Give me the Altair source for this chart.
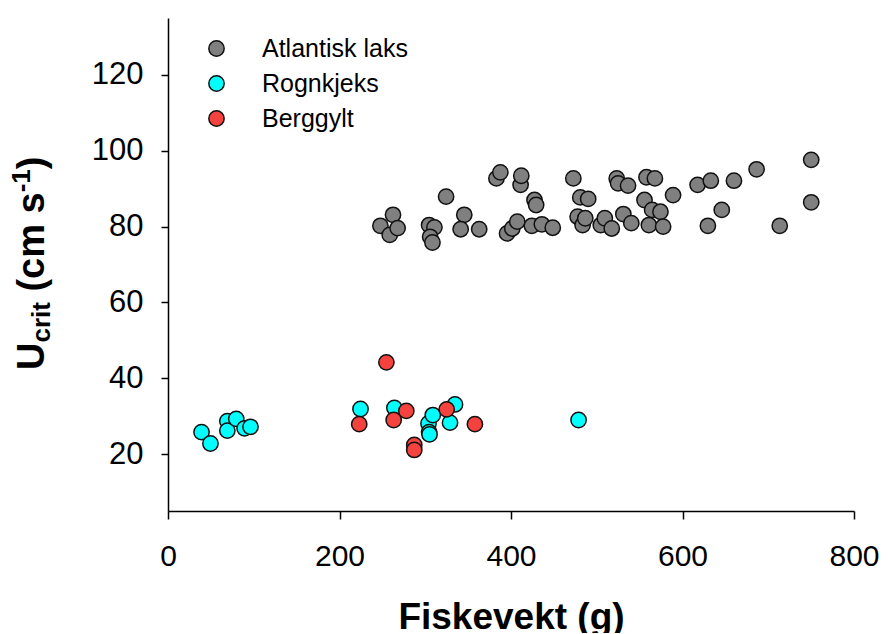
import altair as alt
import pandas as pd

species = ["Atlantisk laks", "Rognkjeks", "Berggylt"]
colors = ["#808080", "#00FFFF", "#F4433E"]

salmon_w = [247.7, 262.4, 258.6, 267.8, 324.3, 304.5, 310.7, 305.7, 308.4, 345.5,
            341.3, 362.9, 383.0, 387.6, 411.2, 412.0, 427.4, 429.3, 395.4, 401.5,
            407.3, 424.3, 436.0, 448.7, 472.7, 480.8, 490.0, 477.7, 483.5, 486.6,
            504.7, 509.4, 517.5, 523.3, 524.9, 536.5, 531.0, 540.3, 555.7, 558.0,
            567.8, 564.6, 574.3, 560.8, 577.4, 589.0, 617.6, 633.0, 645.8, 629.6,
            660.0, 686.4, 713.4, 750.1, 750.1]
salmon_u = [80.2, 83.1, 77.8, 79.6, 87.9, 80.4, 79.8, 77.3, 75.8, 83.1,
            79.3, 79.3, 92.7, 94.3, 91.0, 93.4, 87.0, 85.7, 78.2, 79.5,
            81.3, 80.2, 80.6, 79.7, 92.7, 87.7, 87.3, 82.6, 80.4, 82.2,
            80.4, 82.2, 79.5, 92.7, 91.4, 90.8, 83.3, 80.9, 87.0, 93.0,
            92.7, 84.4, 83.9, 80.4, 80.0, 88.3, 91.0, 92.1, 84.4, 80.2,
            92.1, 95.1, 80.2, 97.6, 86.4]

lump_w = [39.1, 49.5, 69.2, 69.2, 79.6, 89.3, 96.2, 224.5, 264.0, 303.8,
          304.5, 305.0, 308.8, 334.7, 328.9, 478.8]
lump_u = [25.8, 22.8, 28.7, 26.2, 29.3, 26.8, 27.2, 31.9, 32.2, 28.1,
          25.8, 25.2, 30.3, 33.1, 28.3, 29.0]

wrasse_w = [254.7, 223.0, 263.2, 277.9, 287.2, 287.2, 325.0, 357.9]
wrasse_u = [44.2, 27.9, 29.0, 31.4, 22.4, 21.1, 31.8, 27.9]

x_ticks = [0, 200, 400, 600, 800]
y_ticks = [20, 40, 60, 80, 100, 120]

rows = []
for name, ws, us in zip(species, [salmon_w, lump_w, wrasse_w], [salmon_u, lump_u, wrasse_u]):
    for w, u in zip(ws, us):
        rows.append({"species": name, "w": w, "u": u})
df = pd.DataFrame(rows)
df["idx"] = range(len(df))

W, H = 686, 493
FONT = "Liberation Sans"
PT = 235

points = alt.Chart(df).mark_circle(
    size=PT, opacity=1, stroke="#111111", strokeWidth=1.5
).encode(
    x=alt.X("w:Q", scale=alt.Scale(domain=[0, 800], nice=False),
            axis=alt.Axis(values=x_ticks, title="Fiskevekt (g)", tickSize=8,
                          labelPadding=22, labelFlush=False, labelFontSize=30,
                          titleFontSize=37, titleFontWeight="bold", titleFont=FONT,
                          titleBaseline="alphabetic", titleY=117)),
    y=alt.Y("u:Q", scale=alt.Scale(domain=[5, 135], nice=False, zero=False),
            axis=alt.Axis(values=y_ticks, title=None, tickSize=7, labelPadding=18,
                          labelFlush=False)),
    color=alt.Color("species:N", scale=alt.Scale(domain=species, range=colors),
                    legend=alt.Legend(title=None, orient="none", legendX=36, legendY=18,
                                      symbolType="circle", symbolSize=PT,
                                      symbolStrokeColor="#111111", symbolStrokeWidth=1.5,
                                      symbolOpacity=1, labelFont=FONT, labelFontSize=25,
                                      labelColor="black", labelOffset=33, rowPadding=9,
                                      labelLimit=400)),
    order=alt.Order("idx:Q"),
)

one = pd.DataFrame({"k": [0]})
main_size = 38
sub_size = 26
base_x = -124
start_y = 352

def tx(text, x, y, size):
    return alt.Chart(one).mark_text(
        text=text, angle=270, align="left", baseline="alphabetic",
        font=FONT, fontWeight="bold", fontSize=size, color="black"
    ).encode(x=alt.value(x), y=alt.value(y))

y_u = start_y
y_crit = y_u - 0.722 * main_size
y_paren = y_crit - 1.556 * sub_size - 0.278 * main_size
y_sup = y_paren - 2.612 * main_size
y_close = y_sup - 0.889 * sub_size

title_layers = [
    tx("U", base_x, y_u, main_size),
    tx("crit", base_x + 6, y_crit, sub_size),
    tx("(cm s", base_x, y_paren, main_size),
    tx("-1", base_x - 14, y_sup, sub_size),
    tx(")", base_x, y_close, main_size),
]

chart = alt.layer(points, *title_layers).properties(
    width=W, height=H,
    autosize=alt.AutoSizeParams(type="none"),
    padding={"left": 160, "top": 10, "right": 26, "bottom": 122},
).configure_view(stroke=None).configure_axis(
    grid=False, domainColor="black", domainWidth=1.5, tickColor="black",
    tickWidth=1.5, labelFont=FONT, labelFontSize=31, labelColor="black",
    titleColor="black",
)

chart.save("out.html", embed_options={"renderer": "svg", "actions": False})
